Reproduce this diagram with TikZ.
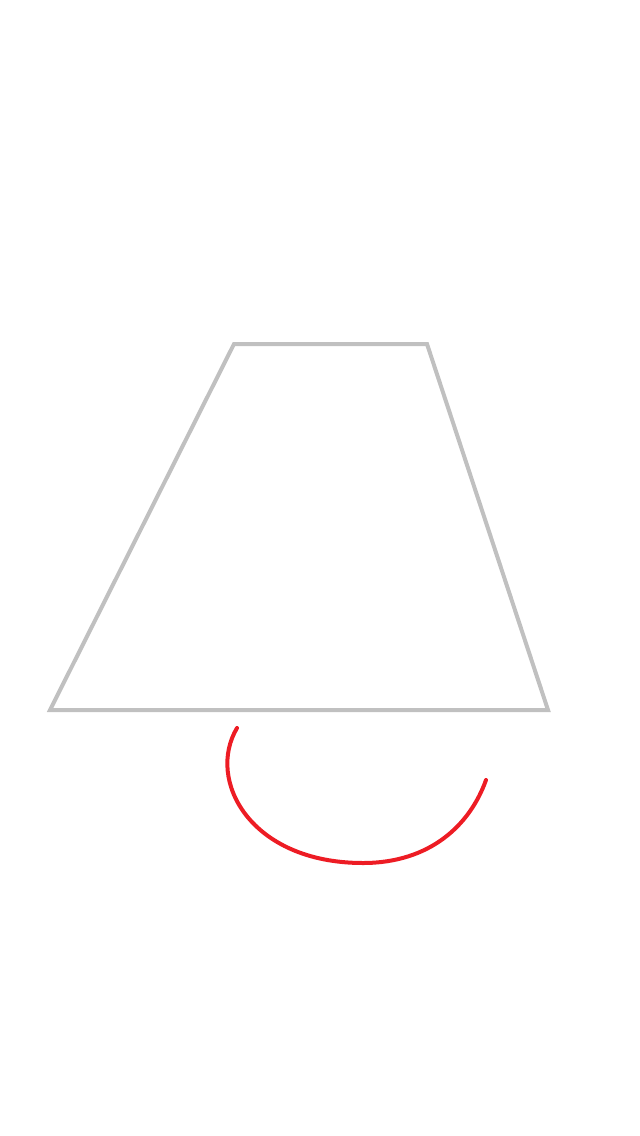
\documentclass[tikz,border=0pt]{standalone}
\begin{document}
\begin{tikzpicture}[x=1pt,y=-1pt,
  shade/.style={draw={rgb,255:red,192;green,192;blue,192},line width=4pt,line join=miter},
  redcurve/.style={draw={rgb,255:red,237;green,28;blue,36},line width=4pt,line cap=round}]
\useasboundingbox (0,0) rectangle (640,1136);
\coordinate (tl) at (234,344);
\coordinate (tr) at (427,344);
\coordinate (br) at (548,710);
\coordinate (bl) at (50,710);
\draw[shade] (tl) -- (tr) -- (br) -- (bl) -- cycle;
\coordinate (cs) at (237,728);
\coordinate (cm) at (363,863);
\coordinate (ce) at (486,780);
\draw[redcurve] (cs) .. controls (206,780) and (250,863) .. (cm) .. controls (430,863) and (470,825) .. (ce);
\end{tikzpicture}
\end{document}
